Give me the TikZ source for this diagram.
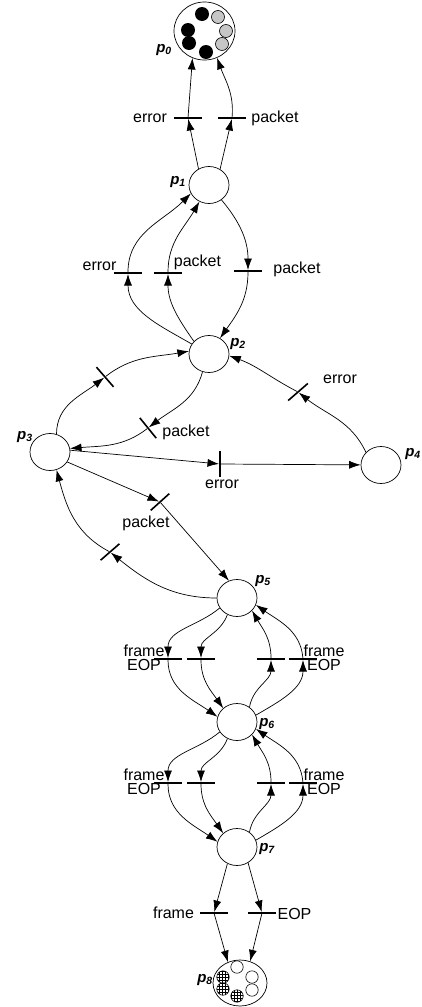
\documentclass[tikz,border=0pt]{standalone}
\usepackage{fontspec}
\setmainfont{Liberation Sans}
\usetikzlibrary{arrows.meta,shapes.geometric,patterns}
\begin{document}
\begin{tikzpicture}[x=1pt,y=1pt]
  \tikzstyle{place}=[draw,ellipse,line width=0.7pt,minimum width=40pt,minimum height=37pt,inner sep=0pt]
  \tikzstyle{trans}=[fill,minimum width=28pt,minimum height=1.6pt,inner sep=0pt]
  \tikzstyle{flow}=[-{Latex[length=11.5pt,width=8pt]},line width=0.7pt]
  \tikzstyle{lbl}=[font=\fontsize{16}{14}\selectfont,inner sep=1pt,align=center]
  \tikzstyle{plbl}=[font=\fontsize{15}{15}\selectfont\bfseries\itshape,inner sep=0pt]
  \useasboundingbox (0,0) rectangle (422,-1007);
  % places
  \node [place,minimum width=61pt,minimum height=58pt] (p0) at (204.5,-31) {};
  \node [place] (p1) at (209,-185) {};
  \node [place] (p2) at (209,-354) {};
  \node [place] (p3) at (50,-452) {};
  \node [place] (p4) at (381,-465) {};
  \node [place] (p5) at (237,-598) {};
  \node [place] (p6) at (237,-722) {};
  \node [place] (p7) at (237,-847) {};
  \node [place,minimum width=54pt,minimum height=46pt] (p8) at (240,-983) {};
  \node [plbl] (p0lab) at (164,-50) {p\textsubscript{0}};
  \node [plbl] (p1lab) at (178,-182) {p\textsubscript{1}};
  \node [plbl] (p2lab) at (238,-344) {p\textsubscript{2}};
  \node [plbl] (p3lab) at (25,-437) {p\textsubscript{3}};
  \node [plbl] (p4lab) at (413,-454) {p\textsubscript{4}};
  \node [plbl] (p5lab) at (263,-581) {p\textsubscript{5}};
  \node [plbl] (p6lab) at (267,-724) {p\textsubscript{6}};
  \node [plbl] (p7lab) at (267,-849) {p\textsubscript{7}};
  \node [plbl] (p8lab) at (205,-980) {p\textsubscript{8}};
  % tokens
  \fill (202,-14) circle (7);
  \fill (188,-30) circle (7);
  \fill (189,-43) circle (7);
  \fill (206,-52) circle (7);
  \filldraw [fill=gray!45,line width=0.6pt] (218,-17) circle (6.5);
  \filldraw [fill=gray!45,line width=0.6pt] (226,-31) circle (6.5);
  \filldraw [fill=gray!45,line width=0.6pt] (222,-44) circle (6.5);
  \draw [pattern=grid,line width=0.6pt] (223,-977) circle (6.2);
  \draw [pattern=grid,line width=0.6pt] (223,-989) circle (6.2);
  \draw [pattern=grid,line width=0.6pt] (237,-996) circle (6.2);
  \draw [line width=0.6pt] (237,-967) circle (6.2);
  \draw [line width=0.6pt] (252,-977) circle (6.2);
  \draw [line width=0.6pt] (252,-990) circle (6.2);
  % transitions
  \node [trans] (te0) at (188,-118) {};
  \node [trans] (tp0) at (232,-118) {};
  \node [trans] (te1) at (128,-273) {};
  \node [trans] (tp1) at (168,-273) {};
  \node [trans] (tp2) at (248,-271) {};
  \node [trans,minimum width=26pt,rotate=-49] (t32) at (105,-377) {};
  \node [trans,minimum width=26pt,rotate=-51] (t23) at (148,-428) {};
  \node [trans,minimum width=26pt,rotate=41] (t42) at (298,-392) {};
  \node [trans,minimum width=26pt,rotate=90] (t34) at (220,-464) {};
  \node [trans,minimum width=25pt,rotate=42] (t35) at (160,-502) {};
  \node [trans,minimum width=25pt,rotate=41] (t53) at (110,-552) {};
  \node [trans] (t56a) at (168,-659) {};
  \node [trans] (t56b) at (201,-659) {};
  \node [trans] (t65a) at (271,-659) {};
  \node [trans] (t65b) at (303,-659) {};
  \node [trans] (t67a) at (168,-783) {};
  \node [trans] (t67b) at (201,-783) {};
  \node [trans] (t76a) at (271,-783) {};
  \node [trans] (t76b) at (303,-783) {};
  \node [trans] (t78a) at (214,-913) {};
  \node [trans] (t78b) at (262,-913) {};
  % labels
  \node [lbl] (le0) at (150,-118) {error};
  \node [lbl] (lp0) at (275,-118) {packet};
  \node [lbl] (le1) at (99.5,-266.5) {error};
  \node [lbl] (lp1) at (197.5,-262) {packet};
  \node [lbl] (lp2) at (297,-269) {packet};
  \node [lbl] (lp23) at (186,-432) {packet};
  \node [lbl] (le42) at (340,-379) {error};
  \node [lbl] (le34) at (222,-484) {error};
  \node [lbl] (lp35) at (146,-523) {packet};
  \node [lbl] (l56) at (144,-658) {frame\\EOP};
  \node [lbl] (l65) at (324,-658) {frame\\EOP};
  \node [lbl] (l67) at (144,-782) {frame\\EOP};
  \node [lbl] (l76) at (324,-782) {frame\\EOP};
  \node [lbl] (l78a) at (173.5,-913) {frame};
  \node [lbl] (l78b) at (294.5,-914) {EOP};
  % p1 -> p0
  \draw [flow] (p1.123) -- (te0);
  \draw [flow] (te0) -- (p0.246);
  \draw [flow] (p1.55) -- (tp0);
  \draw [flow] (tp0) to[out=85,in=-70] (p0.295);
  % p2 -> p1 and back
  \draw [flow] (p2.150) to[out=150,in=-90] (te1);
  \draw [flow] (te1) to[out=90,in=-135] (p1.205);
  \draw [flow] (p2.140) to[out=125,in=-90] (tp1);
  \draw [flow] (tp1) to[out=90,in=-120] (p1.240);
  \draw [flow] (p1.-50) to[out=-50,in=90] (tp2);
  \draw [flow] (tp2) to[out=-90,in=55] (p2.55);
  % p2, p3, p4
  \draw [flow] (p3.70) to[out=90,in=-140] (t32);
  \draw [flow] (t32) to[out=40,in=190] (p2.172);
  \draw [flow] (p2.250) to[out=-105,in=40] (t23);
  \draw [flow] (t23) to[out=220,in=5] (p3.10);
  \draw [flow] (p4.140) to[out=115,in=-40] (t42);
  \draw [flow] (t42) to[out=150,in=-20] (p2.-5);
  \draw [flow] (p3.5) -- (t34);
  \draw [flow] (t34) -- (p4);
  % p3 <-> p5
  \draw [flow] (p3.-30) -- (t35);
  \draw [flow] (t35) -- (p5.115);
  \draw [flow] (p5.180) to[out=180,in=-40] (t53);
  \draw [flow] (t53) to[out=150,in=-75] (p3.-70);
  % p5 <-> p6
  \draw [flow] (p5.210) to[out=220,in=90] (t56a);
  \draw [flow] (t56a) to[out=-90,in=145] (p6.165);
  \draw [flow] (p5.240) to[out=-110,in=90] (t56b);
  \draw [flow] (t56b) to[out=-90,in=125] (p6.135);
  \draw [flow] (p6.50) to[out=80,in=-90] (t65a);
  \draw [flow] (t65a) to[out=90,in=-60] (p5.-40);
  \draw [flow] (p6.20) to[out=30,in=-90] (t65b);
  \draw [flow] (t65b) to[out=95,in=-35] (p5.-20);
  % p6 <-> p7
  \draw [flow] (p6.210) to[out=220,in=90] (t67a);
  \draw [flow] (t67a) to[out=-90,in=145] (p7.165);
  \draw [flow] (p6.240) to[out=-110,in=90] (t67b);
  \draw [flow] (t67b) to[out=-90,in=125] (p7.135);
  \draw [flow] (p7.50) to[out=80,in=-90] (t76a);
  \draw [flow] (t76a) to[out=90,in=-60] (p6.-40);
  \draw [flow] (p7.20) to[out=30,in=-90] (t76b);
  \draw [flow] (t76b) to[out=95,in=-35] (p6.-20);
  % p7 -> p8
  \draw [flow] (p7.240) -- (t78a);
  \draw [flow] (t78a) -- (p8.120);
  \draw [flow] (p7.-55) -- (t78b);
  \draw [flow] (t78b) -- (p8.65);
\end{tikzpicture}
\end{document}
